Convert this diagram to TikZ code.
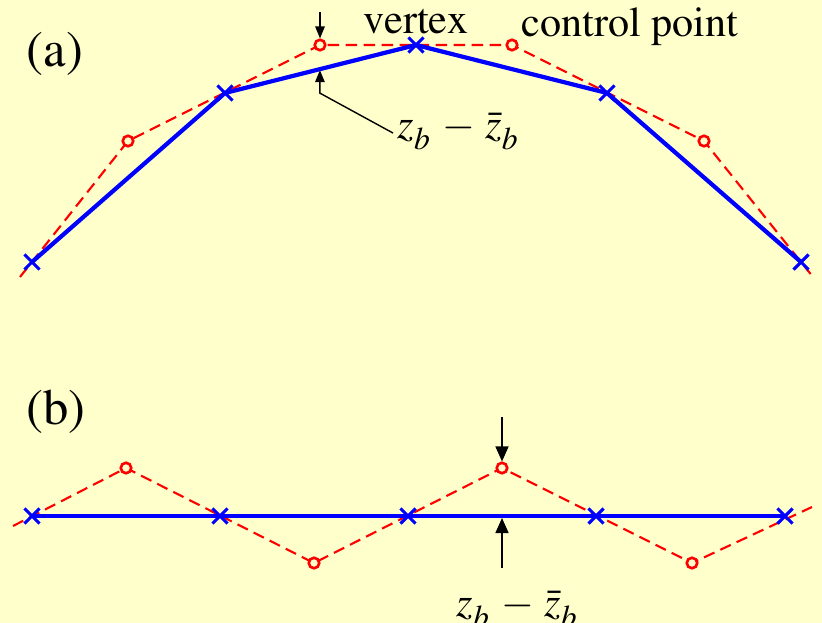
\documentclass[tikz,border=0pt]{standalone}
\usepackage[T1]{fontenc}
\usepackage{mathptmx}
\usetikzlibrary{arrows.meta,calc,shapes.misc}
\definecolor{paper}{RGB}{255,255,204}
\newcommand{\subb}{_{\raisebox{-.25ex}{\fontsize{9}{9}\selectfont$b$}}}
\newcommand{\zdiff}{$z\subb\mskip2mu-\mskip2mu\bar{z}\subb$}
\tikzset{
vtx/.style={cross out,draw=blue,line width=.9pt,minimum size=1.2mm,inner sep=0pt},
ctl/.style={circle,draw=red,fill=paper,line width=.75pt,minimum size=1.05mm,inner sep=0pt},
bluepoly/.style={blue,line width=1.2pt,line join=round},
redpoly/.style={red,line width=.6pt,dash pattern=on 1.15mm off .65mm},
ptrA/.style={line width=.4pt,-{Triangle[length=1.2mm,width=.95mm]}},
ptrB/.style={line width=.45pt,-{Triangle[length=1.5mm,width=1.3mm]}},
lbl/.style={font=\fontsize{12}{14}\selectfont,inner sep=0pt},
tag/.style={font=\fontsize{14.4}{17}\selectfont,inner sep=0pt}
}
\begin{document}
\begin{tikzpicture}[x=.1mm,y=-.1mm]
\fill[paper] (0,0) rectangle (822,623);
\useasboundingbox (0,0) rectangle (822,623);
% (a) curved polygon
\node[tag,anchor=base] (tagA) at (55,66) {(a)};
\foreach \n/\x/\y in {1/32/262,2/225/93,3/416/45,4/607/93,5/801/262}
  \coordinate (v\n) at (\x,\y);
\foreach \n/\x/\y in {1/128/141,2/320/45,3/512/45,4/704/141}
  \coordinate (c\n) at (\x,\y);
\coordinate (endA1) at (20,277);
\coordinate (endA2) at (813,277);
\draw[redpoly] (endA1) -- (c1) -- (c2) -- (c3) -- (c4) -- (endA2);
\draw[bluepoly] (v1) -- (v2) -- (v3) -- (v4) -- (v5);
\foreach \n in {1,...,4} \node[ctl] (cc\n) at (c\n) {};
\foreach \n in {1,...,5} \node[vtx] (vv\n) at (v\n) {};
\node[lbl,anchor=base] (vertexlbl) at (416,33) {vertex};
\node[lbl,anchor=base] (ctllbl) at (630,37) {control point};
\node[lbl,anchor=base west] (zlabA) at (397,138) {\zdiff};
\coordinate (tipA) at ($(v2)!.497!(v3)+(0,1)$);
\draw[ptrA] ([yshift=2.6mm]cc2.north) -- (cc2.north);
\draw[ptrA] ($(zlabA.west)+(-4,2)$) -- ($(tipA)+(0,23)$) -- (tipA);
% (b) flat polygon
\node[tag,anchor=base] (tagB) at (56,424) {(b)};
\foreach \n/\x in {1/32,2/220,3/408,4/596,5/785}
  \coordinate (w\n) at (\x,516);
\foreach \n/\x/\y in {1/126/468,2/314/563,3/502/468,4/692/563}
  \coordinate (d\n) at (\x,\y);
\coordinate (endB1) at (13,526);
\coordinate (endB2) at (812,507);
\draw[redpoly] (endB1) -- (d1) -- (d2) -- (d3) -- (d4) -- (endB2);
\draw[bluepoly] (w1) -- (w5);
\foreach \n in {1,...,4} \node[ctl] (dd\n) at (d\n) {};
\foreach \n in {1,...,5} \node[vtx] (ww\n) at (w\n) {};
\coordinate (tipB) at (502,518);
\draw[ptrB] ([yshift=4.4mm]dd3.north) -- (dd3.north);
\draw[ptrB] ([yshift=-5mm]tipB) -- (tipB);
\node[lbl,anchor=base west] (zlabB) at (456,616) {\zdiff};
\end{tikzpicture}
\end{document}
